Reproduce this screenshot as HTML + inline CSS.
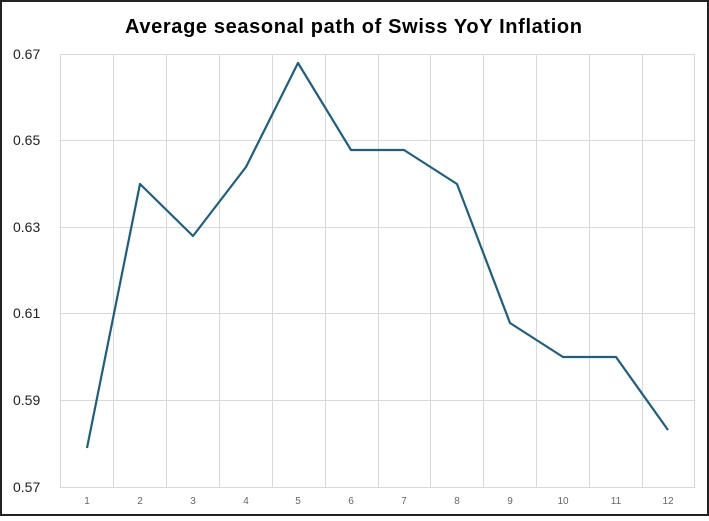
<!DOCTYPE html><html><head><style>body{margin:0;background:#fff}</style></head><body>
<svg width="709" height="516" xmlns="http://www.w3.org/2000/svg" font-family="Liberation Sans, sans-serif">
<rect x="1" y="1" width="707" height="514" fill="#fff" stroke="#222" stroke-width="2"/>
<text x="125" y="33" font-size="20" font-weight="bold" fill="#000" textLength="457" lengthAdjust="spacing">Average seasonal path of Swiss YoY Inflation</text>
<g stroke="#d9d9d9" stroke-width="1">
<line x1="60" y1="54.5" x2="695" y2="54.5"/><line x1="60" y1="140.5" x2="695" y2="140.5"/><line x1="60" y1="227.5" x2="695" y2="227.5"/><line x1="60" y1="313.5" x2="695" y2="313.5"/><line x1="60" y1="400.5" x2="695" y2="400.5"/><line x1="60" y1="487.5" x2="695" y2="487.5"/>
<line x1="60.5" y1="54" x2="60.5" y2="487"/><line x1="113.5" y1="54" x2="113.5" y2="487"/><line x1="166.5" y1="54" x2="166.5" y2="487"/><line x1="219.5" y1="54" x2="219.5" y2="487"/><line x1="272.5" y1="54" x2="272.5" y2="487"/><line x1="325.5" y1="54" x2="325.5" y2="487"/><line x1="378.5" y1="54" x2="378.5" y2="487"/><line x1="430.5" y1="54" x2="430.5" y2="487"/><line x1="483.5" y1="54" x2="483.5" y2="487"/><line x1="536.5" y1="54" x2="536.5" y2="487"/><line x1="589.5" y1="54" x2="589.5" y2="487"/><line x1="642.5" y1="54" x2="642.5" y2="487"/><line x1="694.5" y1="54" x2="694.5" y2="487"/>
</g>
<g font-size="14" fill="#222" text-anchor="start">
<text x="13" y="59">0.67</text><text x="13" y="145">0.65</text><text x="13" y="232">0.63</text><text x="13" y="318">0.61</text><text x="13" y="405">0.59</text><text x="13" y="492">0.57</text>
</g>
<g font-size="10" fill="#666" text-anchor="middle">
<text x="87" y="504">1</text><text x="140" y="504">2</text><text x="193" y="504">3</text><text x="246" y="504">4</text><text x="298" y="504">5</text><text x="351" y="504">6</text><text x="404" y="504">7</text><text x="457" y="504">8</text><text x="510" y="504">9</text><text x="563" y="504">10</text><text x="616" y="504">11</text><text x="668" y="504">12</text>
</g>
<polyline fill="none" stroke="#1c5f7e" stroke-width="2.2" stroke-linejoin="round" points="87,448 140,184 193,236 246,167 298,63 351,150 404,150 457,184 510,323 563,357 616,357 668,430"/>
</svg></body></html>
